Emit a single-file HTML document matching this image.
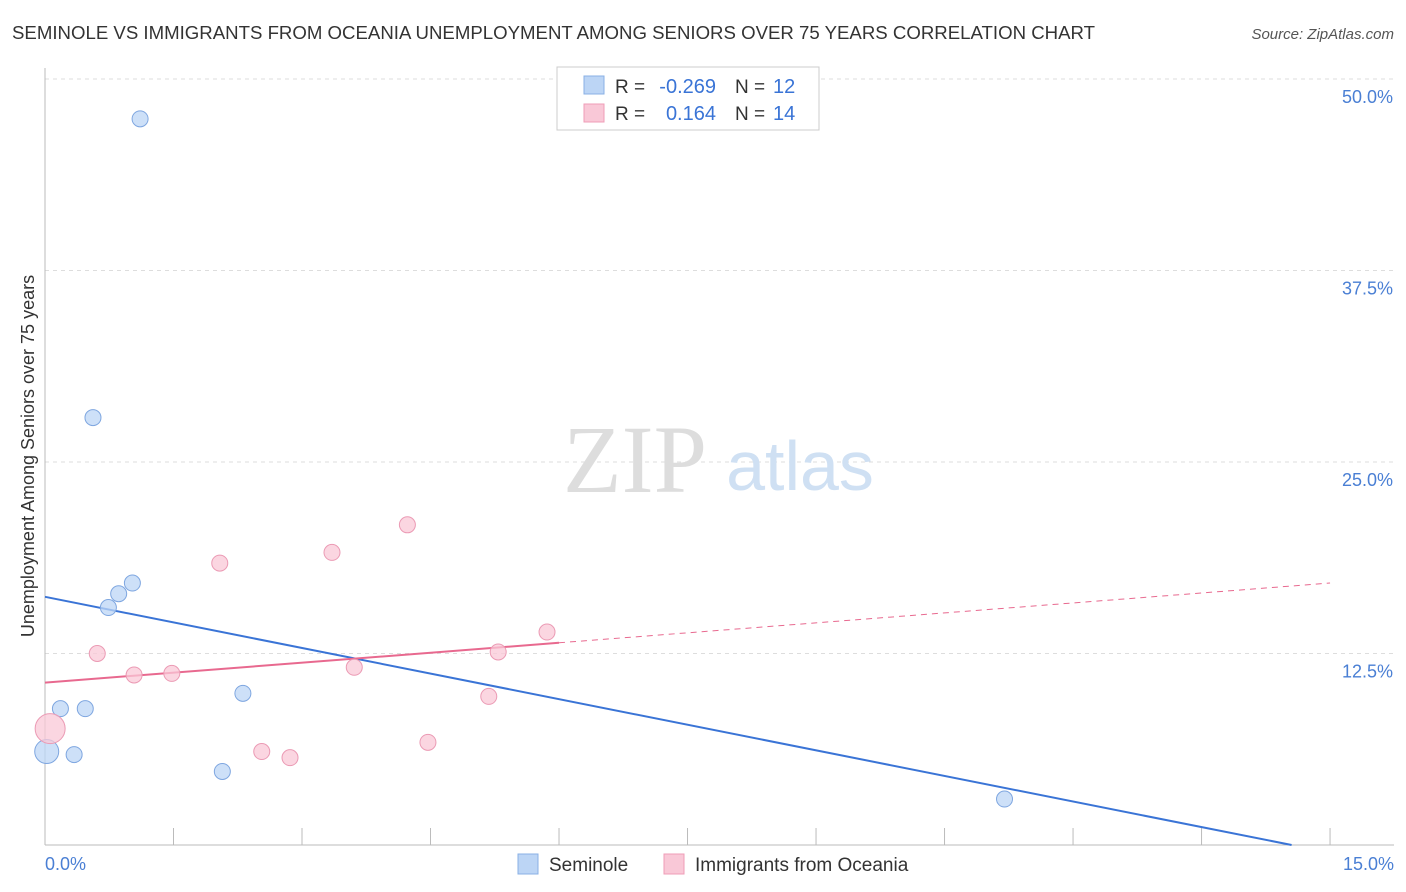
<!DOCTYPE html>
<html><head><meta charset="utf-8">
<style>
body{margin:0;background:#fff;font-family:"Liberation Sans",sans-serif;}
svg{display:block}
</style></head>
<body>
<svg width="1406" height="892" xmlns="http://www.w3.org/2000/svg">
<text x="12" y="39" font-size="18" fill="#333" textLength="1083" lengthAdjust="spacingAndGlyphs">SEMINOLE VS IMMIGRANTS FROM OCEANIA UNEMPLOYMENT AMONG SENIORS OVER 75 YEARS CORRELATION CHART</text>
<text x="1394" y="39" font-size="15" fill="#555" font-style="italic" text-anchor="end">Source: ZipAtlas.com</text>
<g id="grid"></g>
<text x="635" y="492" font-size="96" fill="#ddd" font-family="Liberation Serif,serif" text-anchor="middle">ZIP</text>
<text x="800" y="490" font-size="70" fill="#cfe0f3" text-anchor="middle">atlas</text>
<line x1="45" y1="68" x2="45" y2="845" stroke="#bbb"/>
<line x1="45" y1="845" x2="1394" y2="845" stroke="#bbb"/>
<text transform="translate(34,456) rotate(-90)" font-size="18" fill="#333" text-anchor="middle">Unemployment Among Seniors over 75 years</text>
<text x="45" y="870" font-size="18" fill="#4a7fd4">0.0%</text>
<text x="1394" y="870" font-size="18" fill="#4a7fd4" text-anchor="end">15.0%</text>
<g id="marks"></g>
<g>
<rect x="557" y="67" width="262" height="63" fill="#fff" stroke="#ccc"/>
<rect x="584" y="76" width="20" height="18" fill="#bcd5f5" stroke="#8ab0e5"/>
<rect x="584" y="104" width="20" height="18" fill="#f9c8d7" stroke="#ef9db7"/>
<text x="615" y="93" font-size="19" fill="#333">R =</text>
<text x="716" y="93" font-size="20" fill="#3a74d6" text-anchor="end">-0.269</text>
<text x="735" y="93" font-size="19" fill="#333">N =</text>
<text x="773" y="93" font-size="20" fill="#3a74d6">12</text>
<text x="615" y="120" font-size="19" fill="#333">R =</text>
<text x="716" y="120" font-size="20" fill="#3a74d6" text-anchor="end">0.164</text>
<text x="735" y="120" font-size="19" fill="#333">N =</text>
<text x="773" y="120" font-size="20" fill="#3a74d6">14</text>
</g>
<g>
<rect x="518" y="854" width="20" height="20" fill="#bcd5f5" stroke="#8ab0e5"/>
<text x="549" y="871" font-size="19" fill="#333">Seminole</text>
<rect x="664" y="854" width="20" height="20" fill="#f9c8d7" stroke="#ef9db7"/>
<text x="695" y="871" font-size="19" fill="#333">Immigrants from Oceania</text>
</g>
</svg>
<script>
const yTicks=[12.5,25,37.5,50];
const yTickLabels=["12.5%","25.0%","37.5%","50.0%"];
const xTicks=[0,1.5,3,4.5,6,7.5,9,10.5,12,13.5,15];
const seminoleX=[1.11,0.56,1.02,0.86,0.74,0.18,0.47,2.31,0.34,0.02,2.07,11.2];
const seminoleY=[47.4,27.9,17.1,16.4,15.5,8.9,8.9,9.9,5.9,6.1,4.8,3.0];
const seminoleR=[8,8,8,8,8,8,8,8,8,12,8,8];
const oceaniaX=[0.61,1.04,1.48,2.04,2.53,2.86,3.35,3.61,4.23,4.47,5.18,5.29,5.86,0.06];
const oceaniaY=[12.5,11.1,11.2,18.4,6.1,5.7,19.1,11.6,20.9,6.7,9.7,12.6,13.9,7.6];
const oceaniaR=[8,8,8,8,8,8,8,8,8,8,8,8,8,15];
const blueTrend=[16.2,-0.5];
const pinkTrend=[10.6,17.1];
const NS="http://www.w3.org/2000/svg";
const xs=v=>45+v*85.67, ys=v=>845-v*15.32;
function mk(t,a,p){const e=document.createElementNS(NS,t);for(const k in a)e.setAttribute(k,a[k]);p.appendChild(e);return e;}
const g=document.getElementById('grid'),m=document.getElementById('marks');
yTicks.forEach((v,i)=>{
 const l=mk('line',{x1:45,x2:1394,y1:ys(v),y2:ys(v),stroke:'#ddd','stroke-dasharray':'4,4'},g);
 
 
 const t=mk('text',{x:1393,y:ys(v)+24,'font-size':18,fill:'#4a7fd4','text-anchor':'end'},g);
 t.textContent=yTickLabels[i];
 
 
});
xTicks.forEach(v=>{
 const l=mk('line',{x1:xs(v),x2:xs(v),y1:828,y2:845,stroke:'#bbb'},g);
 
 
});
const bAt=x=>blueTrend[0]+(blueTrend[1]-blueTrend[0])*x/15;
const bEnd=Math.min(15,15*blueTrend[0]/(blueTrend[0]-blueTrend[1]));
const b=mk('line',{x1:xs(0),y1:ys(bAt(0)),x2:xs(bEnd),y2:ys(bAt(bEnd)),stroke:'#3a74d6','stroke-width':2},m);


const pAt=x=>pinkTrend[0]+(pinkTrend[1]-pinkTrend[0])*x/15;
const p1=mk('line',{x1:xs(0),y1:ys(pAt(0)),x2:xs(6),y2:ys(pAt(6)),stroke:'#e8698f','stroke-width':2},m);


const p2=mk('line',{x1:xs(6),y1:ys(pAt(6)),x2:xs(15),y2:ys(pAt(15)),stroke:'#e8698f','stroke-width':1,'stroke-dasharray':'6,5'},m);


seminoleX.forEach((x,i)=>{
 const c=mk('circle',{cx:xs(x),cy:ys(seminoleY[i]),r:seminoleR[i],fill:'#bcd5f5','fill-opacity':0.75,stroke:'#7ea6e0'},m);
 
 
});
oceaniaX.forEach((x,i)=>{
 const c=mk('circle',{cx:xs(x),cy:ys(oceaniaY[i]),r:oceaniaR[i],fill:'#f9c8d7','fill-opacity':0.75,stroke:'#eb9ab4'},m);
 
 
});
</script>
</body></html>
